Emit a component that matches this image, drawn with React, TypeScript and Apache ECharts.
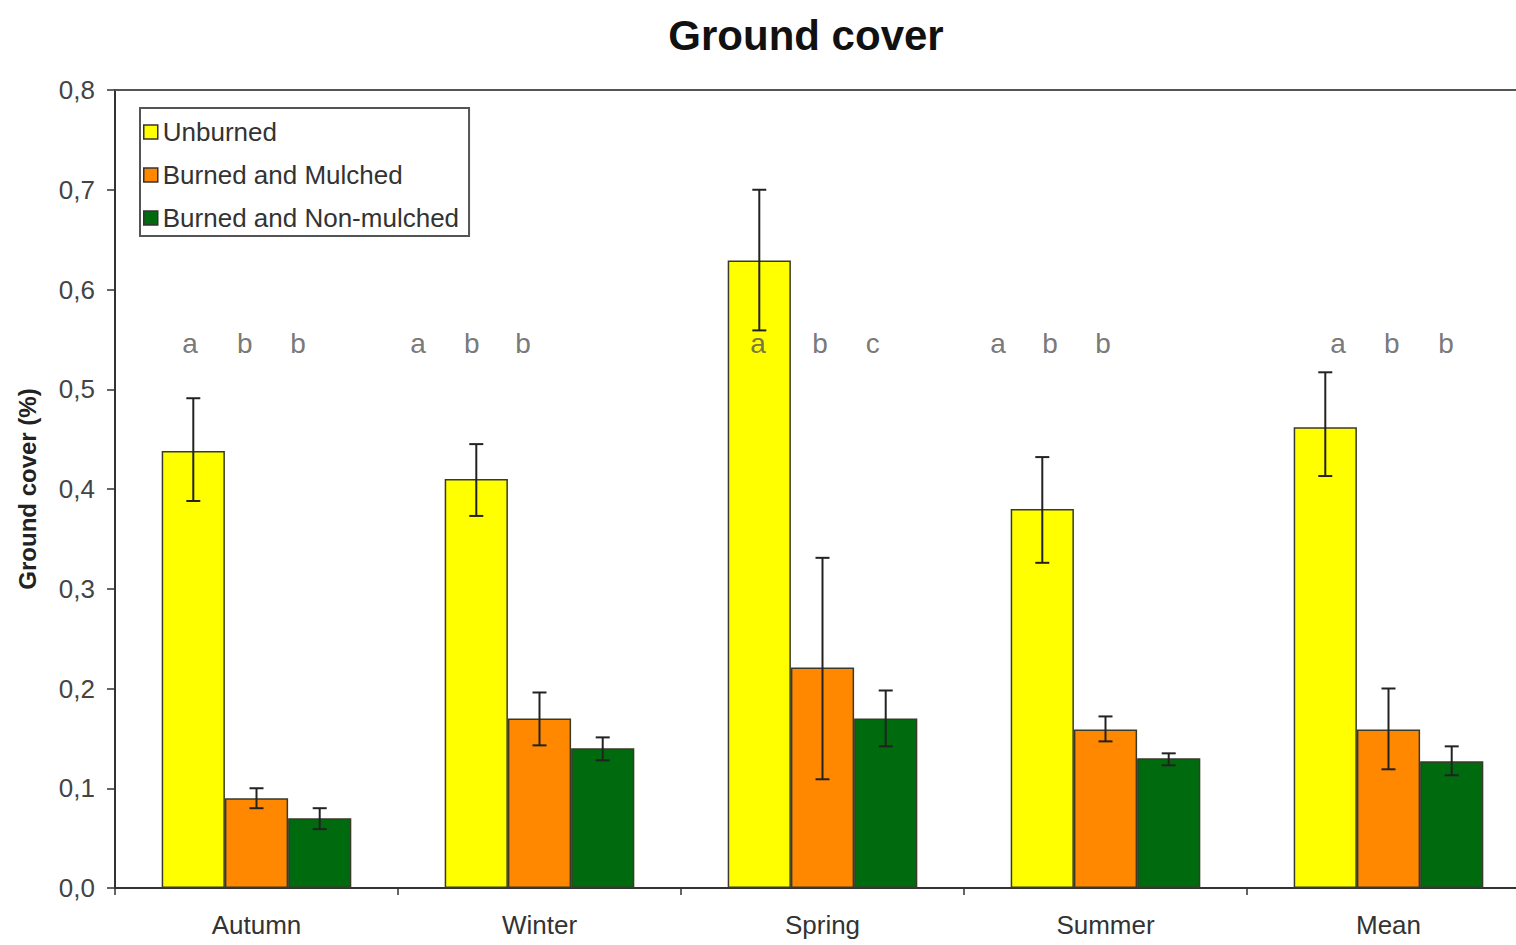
import React, { useEffect, useRef } from "react";
import * as echarts from "echarts";

const categories = ["Autumn", "Winter", "Spring", "Summer", "Mean"];
const seriesNames = ["Unburned", "Burned and Mulched", "Burned and Non-mulched"];
const seriesColors = ["#FFFF00", "#FF8800", "#006A0E"];

const unburned = [0.438, 0.41, 0.629, 0.38, 0.462];
const mulched = [0.09, 0.17, 0.221, 0.159, 0.159];
const nonMulched = [0.07, 0.14, 0.17, 0.13, 0.127];

const unburnedLow = [0.388, 0.373, 0.559, 0.326, 0.413];
const unburnedHigh = [0.491, 0.445, 0.7, 0.432, 0.517];
const mulchedLow = [0.08, 0.143, 0.109, 0.147, 0.119];
const mulchedHigh = [0.1, 0.196, 0.331, 0.172, 0.2];
const nonMulchedLow = [0.059, 0.128, 0.142, 0.123, 0.113];
const nonMulchedHigh = [0.08, 0.151, 0.198, 0.135, 0.142];

const yTicks = ["0,0", "0,1", "0,2", "0,3", "0,4", "0,5", "0,6", "0,7", "0,8"];

// significance letters: position in category units along the axis, letter
const letterX = [
  0.265, 0.459, 0.647,
  1.071, 1.261, 1.442,
  2.272, 2.491, 2.678,
  3.12, 3.304, 3.491,
  4.322, 4.512, 4.703,
];
const letterText = [
  "a", "b", "b",
  "a", "b", "b",
  "a", "b", "c",
  "a", "b", "b",
  "a", "b", "b",
];
const letterY = 0.546;

const FONT = "'Liberation Sans', Arial, sans-serif";
const GAP = 0.33;

export default function App() {
  const ref = useRef<HTMLDivElement>(null);

  useEffect(() => {
    if (!ref.current) return;
    const chart = echarts.init(ref.current, undefined, { renderer: "svg" });

    const values = [unburned, mulched, nonMulched];
    const lows = [unburnedLow, mulchedLow, nonMulchedLow];
    const highs = [unburnedHigh, mulchedHigh, nonMulchedHigh];

    const errData: number[][] = [];
    for (let s = 0; s < 3; s++) {
      for (let c = 0; c < categories.length; c++) {
        errData.push([c, s, lows[s][c], highs[s][c]]);
      }
    }

    const barSeries = values.map((v, i) => ({
      name: seriesNames[i],
      type: "bar",
      data: v,
      barGap: "0%",
      barCategoryGap: GAP * 100 + "%",
      itemStyle: {
        color: seriesColors[i],
        borderColor: "#3a3a2a",
        borderWidth: 1.5,
      },
      xAxisIndex: 0,
      yAxisIndex: 0,
    }));

    const option: any = {
      animation: false,
      backgroundColor: "#ffffff",
      title: {
        text: "Ground cover",
        left: 801,
        textAlign: "center",
        top: 9,
        textStyle: {
          fontFamily: FONT,
          fontSize: 42,
          fontWeight: "bold",
          color: "#111",
        },
      },
      legend: {
        data: seriesNames,
        orient: "vertical",
        left: 140,
        top: 108,
        backgroundColor: "#ffffff",
        borderColor: "#555",
        borderWidth: 2,
        padding: [11, 10, 5, 3],
        itemWidth: 14,
        itemHeight: 14,
        itemGap: 17,
        itemStyle: { borderColor: "#333", borderWidth: 1.5 },
        icon: "rect",
        textStyle: {
          fontFamily: FONT,
          fontSize: 26,
          lineHeight: 26,
          color: "#333",
        },
      },
      grid: {
        left: 115,
        top: 90,
        right: 0,
        bottom: 57,
        containLabel: false,
      },
      xAxis: [
        {
          type: "category",
          data: categories,
          position: "bottom",
          axisLine: { lineStyle: { color: "#333", width: 2 } },
          axisTick: { show: true, inside: false, length: 7, lineStyle: { color: "#333", width: 1.5 } },
          axisLabel: {
            fontFamily: FONT,
            fontSize: 26,
            color: "#333",
            margin: 24,
          },
          splitLine: { show: false },
        },
        {
          type: "value",
          min: 0,
          max: 5,
          position: "top",
          show: true,
          axisLine: { show: true, onZero: false, lineStyle: { color: "#555", width: 2 } },
          axisTick: { show: false },
          axisLabel: { show: false },
          splitLine: { show: false },
        },
      ],
      yAxis: {
        type: "value",
        min: 0,
        max: 0.8,
        interval: 0.1,
        name: "Ground cover (%)",
        nameLocation: "middle",
        nameGap: 76,
        nameRotate: 90,
        nameTextStyle: {
          fontFamily: FONT,
          fontSize: 24,
          fontWeight: "bold",
          color: "#222",
        },
        axisLine: { show: true, lineStyle: { color: "#333", width: 2 } },
        axisTick: { show: true, inside: false, length: 8, lineStyle: { color: "#333", width: 1.5 } },
        axisLabel: {
          fontFamily: FONT,
          fontSize: 26,
          color: "#444",
          margin: 20,
          formatter: (val: number) => yTicks[Math.round(val * 10)] ?? "",
        },
        splitLine: { show: false },
      },
      series: [
        ...barSeries,
        {
          type: "custom",
          name: "errors",
          xAxisIndex: 0,
          yAxisIndex: 0,
          data: errData,
          encode: { x: 0, y: [2, 3] },
          z: 10,
          renderItem: (params: any, api: any) => {
            const c = api.value(0);
            const s = api.value(1);
            const lo = api.coord([c, api.value(2)]);
            const hi = api.coord([c, api.value(3)]);
            const band = api.size([1, 0])[0];
            const barW = (band * (1 - GAP)) / 3;
            const x = lo[0] + (s - 1) * barW;
            const cap = 7;
            const st = { stroke: "#222", lineWidth: 2 };
            return {
              type: "group",
              children: [
                { type: "line", shape: { x1: x, y1: lo[1], x2: x, y2: hi[1] }, style: st },
                { type: "line", shape: { x1: x - cap, y1: hi[1], x2: x + cap, y2: hi[1] }, style: st },
                { type: "line", shape: { x1: x - cap, y1: lo[1], x2: x + cap, y2: lo[1] }, style: st },
              ],
            };
          },
        },
        {
          type: "scatter",
          name: "letters",
          xAxisIndex: 1,
          yAxisIndex: 0,
          symbolSize: 1,
          itemStyle: { color: "rgba(0,0,0,0)" },
          z: 11,
          data: letterX.map((x, i) => ({ value: [x, letterY], name: letterText[i] })),
          label: {
            show: true,
            position: "inside",
            formatter: (p: any) => p.name,
            fontFamily: FONT,
            fontSize: 28,
            color: "#555",
          },
          silent: true,
        },
      ],
    };

    chart.setOption(option);
    return () => chart.dispose();
  }, []);

  return (
    <div
      style={{
        position: "fixed",
        left: 0,
        top: 0,
        width: 1516,
        height: 945,
        overflow: "hidden",
        background: "#fff",
      }}
    >
      <div ref={ref} style={{ width: 1530, height: 945 }} />
    </div>
  );
}
